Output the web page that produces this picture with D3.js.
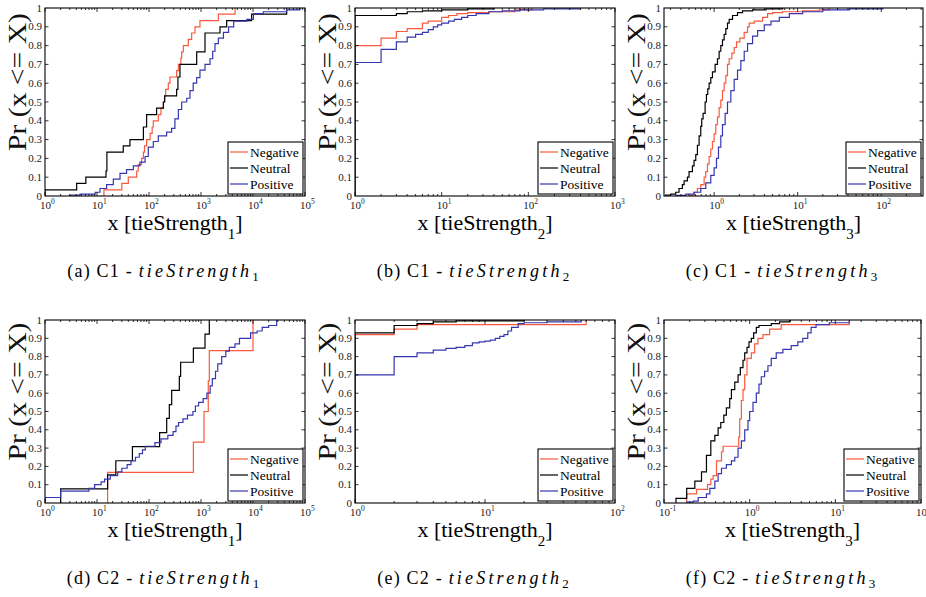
<!DOCTYPE html>
<html><head><meta charset="utf-8">
<script src="https://cdn.jsdelivr.net/npm/d3@7"></script>
<style>body{margin:0;background:#fff}svg{display:block}</style>
</head><body><svg id="chart" width="926" height="597"></svg>
<script>
// ---------- data ----------
const seriesNames = ["Negative", "Neutral", "Positive"];
const seriesColors = ["#f85a3e", "#000000", "#3636b0"];
const yTickValues = [0, 0.1, 0.2, 0.3, 0.4, 0.5, 0.6, 0.7, 0.8, 0.9, 1];
const yTickLabels = ["0", "0.1", "0.2", "0.3", "0.4", "0.5", "0.6", "0.7", "0.8", "0.9", "1"];
const panelLetters = ["a", "b", "c", "d", "e", "f"];
const panelGroups = ["C1", "C1", "C1", "C2", "C2", "C2"];
const panelMeasures = ["1", "2", "3", "1", "2", "3"];
const xDomains = [[1, 1e5], [1, 1e3], [0.2512, 316.2], [1, 1e5], [1, 100], [0.1, 100]];
const yLabelText = "Pr (x <= X)";

// CDF step points [x, Pr(x<=X) after the step]
const c1ts1Negative = [[13.6,0.033],[30,0.067],[40,0.1],[58,0.133],[62,0.167],[72,0.2],[78,0.233],[82,0.267],[90,0.3],[105,0.333],[115,0.367],[121,0.4],[151,0.433],[170,0.467],[189,0.5],[200,0.533],[209,0.567],[235,0.6],[253,0.633],[340,0.667],[367,0.7],[410,0.733],[425,0.767],[457,0.8],[570,0.833],[661,0.867],[767,0.9],[955,0.933],[2155,0.967],[4508,1.0]];
const c1ts1Neutral = [[1,0.033],[4.06,0.067],[6.1,0.1],[14.9,0.133],[15.5,0.233],[32,0.267],[43,0.3],[78,0.367],[90,0.433],[140,0.467],[189,0.5],[200,0.533],[340,0.567],[360,0.633],[394,0.7],[826,0.767],[1194,0.867],[2318,0.9],[3118,0.933],[9420,0.967],[44400,1.0]];
const c1ts1Positive = [[3.0,0.005],[4.7,0.01],[9.2,0.02],[11.4,0.04],[15.3,0.06],[20.6,0.09],[27.7,0.12],[37,0.14],[50,0.16],[67,0.18],[84,0.21],[97,0.26],[121,0.29],[151,0.32],[218,0.34],[272,0.36],[315,0.41],[367,0.46],[425,0.5],[531,0.52],[613,0.56],[708,0.6],[826,0.63],[955,0.67],[1194,0.7],[1488,0.73],[1680,0.77],[1860,0.81],[2155,0.84],[2700,0.87],[3390,0.9],[4250,0.93],[7600,0.94],[10180,0.97],[15800,0.98],[44400,0.99],[79000,1.0]];

const c1ts2Negative = [[1,0.8],[2,0.84],[3,0.875],[4,0.89],[6,0.92],[7,0.93],[10,0.95],[12,0.96],[15,0.97],[20,0.975],[35,0.98],[70,0.99],[110,1.0]];
const c1ts2Neutral = [[1,0.96],[3,0.97],[4,0.98],[6,0.985],[10,0.99],[20,0.995],[40,1.0]];
const c1ts2Positive = [[1,0.71],[2,0.78],[3,0.82],[4,0.845],[5,0.86],[6,0.87],[7,0.885],[8,0.9],[9,0.91],[10,0.92],[12,0.93],[14,0.94],[17,0.95],[20,0.96],[25,0.97],[35,0.98],[50,0.985],[80,0.99],[150,0.995],[400,1.0]];

const c1ts3Negative = [[0.525,0.005],[0.575,0.02],[0.631,0.04],[0.692,0.06],[0.759,0.1],[0.794,0.13],[0.832,0.17],[0.871,0.21],[0.912,0.25],[0.955,0.29],[1.0,0.33],[1.047,0.38],[1.096,0.42],[1.148,0.47],[1.202,0.51],[1.259,0.56],[1.318,0.6],[1.38,0.64],[1.445,0.7],[1.514,0.73],[1.629,0.76],[1.738,0.79],[1.854,0.82],[2.032,0.84],[2.291,0.87],[2.512,0.9],[2.63,0.92],[3.02,0.93],[3.802,0.95],[4.365,0.97],[5.012,0.975],[6.607,0.98],[11.48,0.985],[18.2,0.99],[23.99,1.0]];
const c1ts3Neutral = [[0.263,0.005],[0.302,0.01],[0.347,0.02],[0.38,0.04],[0.417,0.06],[0.437,0.08],[0.479,0.1],[0.501,0.13],[0.55,0.16],[0.575,0.19],[0.603,0.22],[0.631,0.27],[0.661,0.32],[0.692,0.37],[0.711,0.41],[0.738,0.44],[0.78,0.5],[0.809,0.54],[0.839,0.57],[0.871,0.6],[0.912,0.63],[0.955,0.66],[1.028,0.7],[1.096,0.73],[1.148,0.77],[1.202,0.8],[1.259,0.83],[1.318,0.86],[1.38,0.89],[1.445,0.92],[1.514,0.94],[1.66,0.96],[1.905,0.975],[2.188,0.985],[2.884,0.99],[4.169,0.995],[6.607,1.0]];
const c1ts3Positive = [[0.347,0.003],[0.457,0.01],[0.575,0.02],[0.692,0.04],[0.794,0.07],[0.912,0.11],[1.0,0.15],[1.067,0.2],[1.127,0.26],[1.202,0.32],[1.259,0.38],[1.355,0.44],[1.445,0.5],[1.585,0.56],[1.738,0.62],[1.905,0.67],[2.089,0.72],[2.291,0.77],[2.512,0.81],[2.884,0.85],[3.311,0.88],[3.981,0.91],[4.786,0.93],[6.026,0.95],[7.943,0.97],[11.48,0.98],[19.95,0.99],[41.69,0.995],[104.7,1.0]];

const c2ts1Negative = [[16,0.167],[713,0.333],[1143,0.5],[1380,0.667],[1445,0.833],[10000,1.0]];
const c2ts1Neutral = [[2,0.077],[16,0.154],[23,0.231],[48,0.308],[160,0.385],[219,0.462],[246,0.538],[273,0.615],[383,0.692],[406,0.769],[713,0.846],[1194,0.923],[1445,1.0]];
const c2ts1Positive = [[1,0.03],[2,0.065],[7,0.08],[9,0.1],[12,0.115],[14,0.13],[18,0.15],[25,0.17],[30,0.19],[38,0.21],[45,0.23],[55,0.25],[65,0.27],[75,0.29],[85,0.31],[130,0.33],[170,0.35],[230,0.37],[290,0.39],[330,0.42],[370,0.44],[450,0.46],[550,0.48],[700,0.5],[780,0.53],[900,0.55],[1100,0.57],[1300,0.6],[1500,0.64],[1650,0.68],[1900,0.72],[2100,0.76],[2500,0.8],[3000,0.83],[3500,0.85],[4500,0.87],[5500,0.9],[9000,0.93],[12000,0.94],[15000,0.96],[20000,0.97],[28500,1.0]];

const c2ts2Negative = [[1,0.92],[2,0.95],[3,0.975],[60,1.0]];
const c2ts2Neutral = [[1,0.93],[2,0.97],[3,0.98],[4,0.99],[6,0.995],[20,1.0]];
const c2ts2Positive = [[1,0.7],[2,0.8],[3,0.82],[4,0.835],[5,0.845],[6,0.85],[7,0.86],[8,0.875],[9,0.88],[10,0.885],[11,0.89],[12,0.9],[13,0.91],[14,0.92],[15,0.94],[16,0.96],[18,0.98],[20,0.985],[30,0.99],[55,1.0]];

const c2ts3Negative = [[0.184,0.05],[0.24,0.075],[0.322,0.1],[0.352,0.13],[0.375,0.15],[0.41,0.23],[0.469,0.28],[0.49,0.31],[0.745,0.36],[0.765,0.46],[0.8,0.56],[0.836,0.62],[0.875,0.7],[0.931,0.79],[1.046,0.82],[1.143,0.87],[1.25,0.9],[1.429,0.92],[1.709,0.95],[2.334,0.975],[14.55,1.0]];
const c2ts3Neutral = [[0.138,0.025],[0.184,0.08],[0.229,0.12],[0.274,0.17],[0.313,0.26],[0.352,0.34],[0.392,0.37],[0.428,0.41],[0.46,0.44],[0.499,0.48],[0.535,0.52],[0.585,0.57],[0.612,0.62],[0.67,0.66],[0.732,0.7],[0.778,0.74],[0.836,0.78],[0.875,0.82],[0.931,0.85],[0.982,0.88],[1.046,0.9],[1.113,0.93],[1.196,0.96],[1.284,0.97],[1.786,0.98],[2.233,0.99],[2.917,1.0]];
const c2ts3Positive = [[0.184,0.005],[0.219,0.01],[0.251,0.03],[0.313,0.05],[0.343,0.08],[0.392,0.12],[0.428,0.16],[0.469,0.19],[0.535,0.21],[0.612,0.23],[0.67,0.25],[0.732,0.3],[0.8,0.34],[0.875,0.4],[0.956,0.45],[1.0,0.5],[1.093,0.55],[1.196,0.6],[1.284,0.65],[1.367,0.69],[1.494,0.72],[1.634,0.75],[1.786,0.79],[2.042,0.82],[2.441,0.84],[3.05,0.86],[3.648,0.88],[4.169,0.9],[4.767,0.93],[5.212,0.96],[5.96,0.975],[8.515,0.985],[14.55,1.0]];

const panelSeries = [
  [c1ts1Negative, c1ts1Neutral, c1ts1Positive],
  [c1ts2Negative, c1ts2Neutral, c1ts2Positive],
  [c1ts3Negative, c1ts3Neutral, c1ts3Positive],
  [c2ts1Negative, c2ts1Neutral, c2ts1Positive],
  [c2ts2Negative, c2ts2Neutral, c2ts2Positive],
  [c2ts3Negative, c2ts3Neutral, c2ts3Positive]
];

// ---------- layout ----------
const boxes = [
  {x0: 45, x1: 305, y0: 8, y1: 196},
  {x0: 355, x1: 615, y0: 8, y1: 196},
  {x0: 664, x1: 923, y0: 8, y1: 196},
  {x0: 45, x1: 305, y0: 320, y1: 503},
  {x0: 355, x1: 615, y0: 320, y1: 503},
  {x0: 664, x1: 921, y0: 320, y1: 503}
];
const FONT = "'Liberation Serif', 'Times New Roman', serif";
const svg = d3.select("#chart");

boxes.forEach((b, i) => {
  const g = svg.append("g");
  const x = d3.scaleLog().domain(xDomains[i]).range([b.x0, b.x1]);
  const y = d3.scaleLinear().domain([0, 1]).range([b.y1, b.y0]);
  const clipId = "clip" + i;
  svg.append("clipPath").attr("id", clipId).append("rect")
    .attr("x", b.x0).attr("y", b.y0 - 1).attr("width", b.x1 - b.x0).attr("height", b.y1 - b.y0 + 2);

  // series
  const line = d3.line().x(d => x(d[0])).y(d => y(d[1])).curve(d3.curveStepAfter);
  panelSeries[i].forEach((s, k) => {
    const pts = [[s[0][0], 0]].concat(s);
    g.append("path").attr("d", line(pts)).attr("fill", "none")
      .attr("stroke", seriesColors[k]).attr("stroke-width", 1.2)
      .attr("clip-path", `url(#${clipId})`);
  });

  // y ticks
  yTickValues.forEach((v, j) => {
    const yy = y(v);
    if (j > 0 && j < yTickValues.length - 1) {
      g.append("line").attr("x1", b.x0).attr("x2", b.x0 + 3.5).attr("y1", yy).attr("y2", yy).attr("stroke", "#000").attr("stroke-width", 0.8);
      g.append("line").attr("x1", b.x1).attr("x2", b.x1 - 3.5).attr("y1", yy).attr("y2", yy).attr("stroke", "#000").attr("stroke-width", 0.8);
    }
    g.append("text").attr("x", b.x0 - 3).attr("y", yy + 3.5).attr("text-anchor", "end")
      .attr("font-family", FONT).attr("font-size", 11).attr("fill", "#222").text(yTickLabels[j]);
  });

  // x ticks (log)
  const [d0, d1] = xDomains[i];
  const kMin = Math.floor(Math.log10(d0)), kMax = Math.ceil(Math.log10(d1));
  for (let k = kMin; k <= kMax; k++) {
    for (let m = 1; m <= 9; m++) {
      const v = m * Math.pow(10, k);
      if (v < d0 * 0.999 || v > d1 * 1.001) continue;
      const xx = x(v);
      const len = m === 1 ? 4 : 2;
      g.append("line").attr("x1", xx).attr("x2", xx).attr("y1", b.y1).attr("y2", b.y1 - len).attr("stroke", "#000").attr("stroke-width", 0.8);
      g.append("line").attr("x1", xx).attr("x2", xx).attr("y1", b.y0).attr("y2", b.y0 + len).attr("stroke", "#000").attr("stroke-width", 0.8);
      if (m === 1) {
        const t = g.append("text").attr("x", xx - 5).attr("y", b.y1 + 13)
          .attr("font-family", FONT).attr("font-size", 11).attr("fill", "#222");
        t.append("tspan").text("10");
        t.append("tspan").attr("dy", -5).attr("font-size", 7.5).text(String(k));
      }
    }
  }

  // frame
  g.append("rect").attr("x", b.x0).attr("y", b.y0).attr("width", b.x1 - b.x0).attr("height", b.y1 - b.y0)
    .attr("fill", "none").attr("stroke", "#000").attr("stroke-width", 1.1);

  // legend
  const lw = 75, lh = 52;
  const lx = b.x1 - 2 - lw, ly = b.y1 - 2 - lh;
  g.append("rect").attr("x", lx).attr("y", ly).attr("width", lw).attr("height", lh)
    .attr("fill", "#fff").attr("stroke", "#000").attr("stroke-width", 1.1);
  seriesNames.forEach((n, k) => {
    const ry = ly + 10 + k * 16;
    g.append("line").attr("x1", lx + 2).attr("x2", lx + 20).attr("y1", ry).attr("y2", ry)
      .attr("stroke", seriesColors[k]).attr("stroke-width", 1.2);
    g.append("text").attr("x", lx + 22).attr("y", ry + 4.5).attr("font-family", FONT)
      .attr("font-size", 13.5).attr("fill", "#000").text(n);
  });

  // y label
  const cy = (b.y0 + b.y1) / 2 - 20;
  g.append("text").attr("transform", `translate(${b.x0 - 19},${cy}) rotate(-90)`)
    .attr("text-anchor", "middle").attr("font-family", FONT).attr("font-size", 25)
    .attr("textLength", 138).attr("lengthAdjust", "spacingAndGlyphs").attr("fill", "#111")
    .text(yLabelText);

  // x label
  const cx = (b.x0 + b.x1) / 2;
  const xl = g.append("text").attr("x", cx).attr("y", b.y1 + 34).attr("text-anchor", "middle")
    .attr("font-family", FONT).attr("font-size", 22).attr("fill", "#000");
  xl.append("tspan").text("x [tieStrength");
  xl.append("tspan").attr("dy", 9).attr("font-size", 15).text(panelMeasures[i]);
  xl.append("tspan").attr("dy", -9).text("]");

  // caption
  const cap = g.append("text").attr("x", cx - 12).attr("y", b.y1 + 81).attr("text-anchor", "middle")
    .attr("font-family", FONT).attr("font-size", 18).attr("fill", "#000");
  cap.append("tspan").attr("letter-spacing", 1.2).text(`(${panelLetters[i]}) ${panelGroups[i]} - `);
  cap.append("tspan").attr("font-style", "italic").attr("letter-spacing", 3.2).text("tieStrength");
  cap.append("tspan").attr("dy", 4).attr("font-size", 13).text(panelMeasures[i]);
});
</script>
</body></html>
